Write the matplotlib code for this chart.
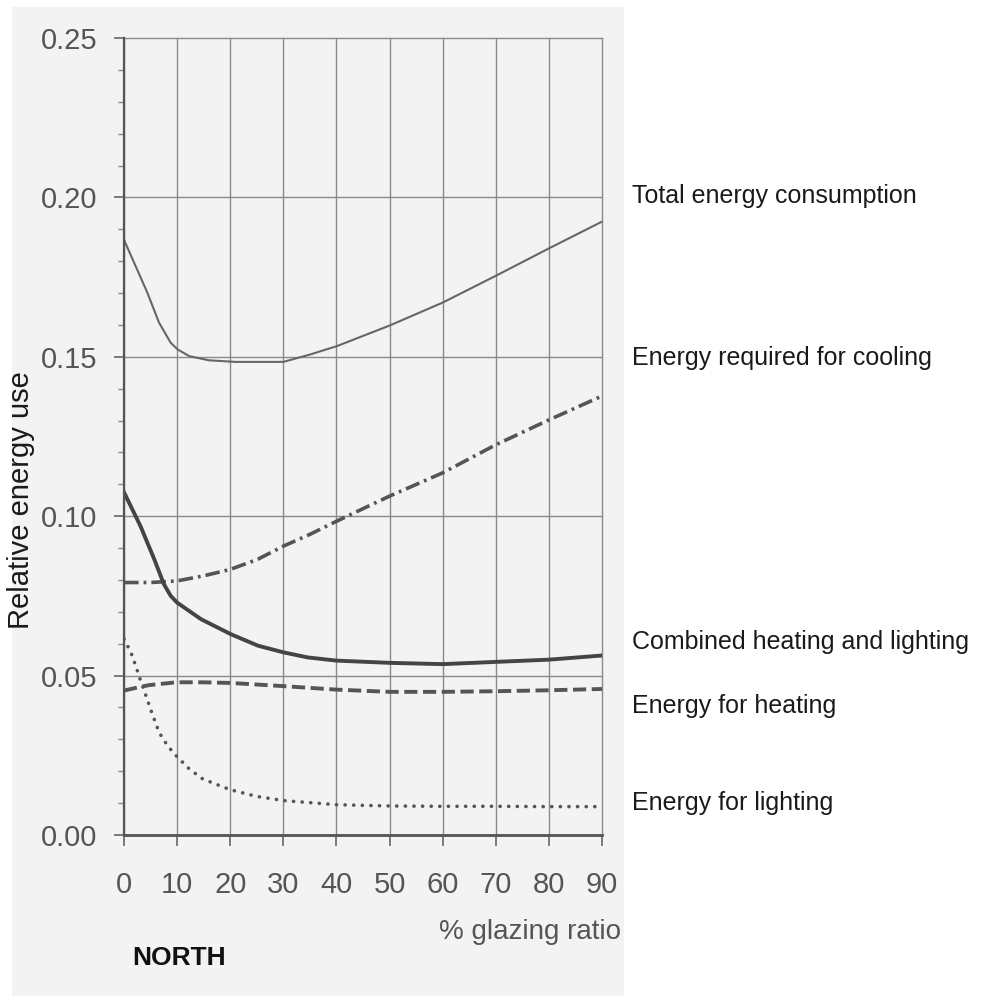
import matplotlib
matplotlib.use("Agg")
import matplotlib.pyplot as plt
from matplotlib.patches import Rectangle
from matplotlib.ticker import MultipleLocator

plt.rcParams['lines.scale_dashes'] = False

# ---- data ----
x_total = [0, 2.2, 4.4, 6.6, 8.8, 10.1, 12.3, 16, 21, 30, 35, 40, 50, 60, 70, 80, 90]
total = [0.1867, 0.1784, 0.1701, 0.1607, 0.1544, 0.1523, 0.1502, 0.1489, 0.1484, 0.1484,
         0.1507, 0.1533, 0.1598, 0.1670, 0.1754, 0.1840, 0.1924]

x_cool = [0, 5, 10, 15, 20, 25.2, 30, 35, 40, 45.3, 50, 60, 70, 80, 90]
cooling = [0.0792, 0.0792, 0.0797, 0.0813, 0.0833, 0.0865, 0.0906, 0.0943, 0.0984, 0.1026,
           0.1063, 0.1136, 0.1224, 0.1302, 0.1377]

x_comb = [0, 3.1, 5.7, 7.5, 8.8, 10, 14.5, 20.1, 25.2, 30, 34.6, 40, 50, 60, 70, 80, 90]
combined = [0.1075, 0.0969, 0.0865, 0.0787, 0.0750, 0.0729, 0.0677, 0.0630, 0.0594, 0.0573,
            0.0557, 0.0547, 0.0540, 0.0536, 0.0543, 0.0550, 0.0563]

x_heat = [0, 2.6, 4.7, 9.8, 14.8, 20, 30, 40, 50, 60, 70, 80, 90]
heating = [0.0453, 0.0463, 0.0470, 0.0479, 0.0479, 0.0477, 0.0467, 0.0456, 0.0449, 0.0449,
           0.0451, 0.0454, 0.0458]

x_light = [0, 1.3, 2.2, 3, 3.8, 5.1, 6.6, 8.2, 9.8, 12.3, 14.8, 20, 25, 30, 40, 50, 60, 70, 80, 89]
lighting = [0.0615, 0.0573, 0.0531, 0.0490, 0.0453, 0.0390, 0.0322, 0.0280, 0.0249, 0.0207,
            0.0176, 0.0142, 0.0121, 0.0108, 0.0095, 0.0091, 0.0090, 0.0090, 0.0089, 0.0089]

series_labels = ["Total energy consumption", "Energy required for cooling",
                 "Combined heating and lighting", "Energy for heating", "Energy for lighting"]
label_values = [0.2005, 0.1495, 0.0605, 0.0405, 0.0100]

x_ticks = [0, 10, 20, 30, 40, 50, 60, 70, 80, 90]
y_ticks = [0.00, 0.05, 0.10, 0.15, 0.20, 0.25]

# ---- figure ----
W, H = 992, 996
fig = plt.figure(figsize=(W / 100, H / 100), dpi=100)
fig.patch.set_facecolor('white')
fig.patches.append(Rectangle((12 / W, 0), (624 - 12) / W, (996 - 7) / H,
                             transform=fig.transFigure, facecolor='#f3f3f3',
                             edgecolor='none', zorder=-5))

ax = fig.add_axes([124 / W, 1 - 835 / H, (602 - 124) / W, (835 - 38) / H])
ax.set_zorder(2)
ax.set_facecolor('none')
ax.set_xlim(0, 90)
ax.set_ylim(0, 0.25)

narrow = ['Liberation Sans', 'DejaVu Sans']
arial = ['Liberation Sans', 'DejaVu Sans']

ax.set_xticks(x_ticks)
ax.set_yticks(y_ticks)
ax.yaxis.set_minor_locator(MultipleLocator(0.01))
ax.set_xticklabels([str(v) for v in x_ticks], family=narrow, fontsize=21, color='#555555')
ax.set_yticklabels([f"{v:.2f}" for v in y_ticks], family=narrow, fontsize=21, color='#555555')
ax.tick_params(axis='y', which='major', direction='out', length=7, width=1.2,
               color='#666666', pad=12)
ax.tick_params(axis='y', which='minor', direction='out', length=4, width=1.0,
               color='#888888')
ax.tick_params(axis='x', which='major', direction='out', length=8, width=1.2,
               color='#666666', pad=18)

ax.grid(True, which='major', color='#8a8a8a', linewidth=1.0)
for gl in ax.get_xgridlines() + ax.get_ygridlines():
    gl.set_clip_on(False)
ax.set_axisbelow(True)
for s in ['top', 'right']:
    ax.spines[s].set_visible(False)
ax.spines['left'].set_color('#555555')
ax.spines['left'].set_linewidth(1.6)
ax.spines['bottom'].set_color('#555555')
ax.spines['bottom'].set_linewidth(2.0)

ax.plot(x_total, total, color='#666666', lw=1.5, solid_joinstyle='round')
ax.plot(x_cool, cooling, color='#555555', lw=2.6, linestyle=(0, (10.5, 3.6, 2.0, 3.6)))
ax.plot(x_comb, combined, color='#444444', lw=2.8, solid_joinstyle='round')
ax.plot(x_heat, heating, color='#555555', lw=2.8, linestyle=(0, (9.5, 4.0)))
ax.plot(x_light, lighting, color='#555555', lw=2.6, linestyle=(0, (0.1, 6.1)),
        dash_capstyle='round')

# right-hand labels
for lab, v in zip(series_labels, label_values):
    ax.annotate(lab, xy=(1, v), xycoords=('axes fraction', 'data'),
                xytext=(632 - 602, 0), textcoords='offset pixels',
                ha='left', va='center', fontsize=18, family=arial, color='#1a1a1a',
                annotation_clip=False)

fig.text(21 / W, 1 - 500 / H, "Relative energy use", rotation=90, ha='center',
         va='center', fontsize=21, family=arial, color='#1a1a1a')
fig.text(621 / W, 1 - 932 / H, "% glazing ratio", ha='right', va='center',
         fontsize=20, family=narrow, color='#555555')
fig.text(132 / W, 1 - 958 / H, "NORTH", ha='left', va='center',
         fontsize=19, family=narrow, fontweight='bold', color='#111111')

fig.savefig("out.png", dpi=100)
